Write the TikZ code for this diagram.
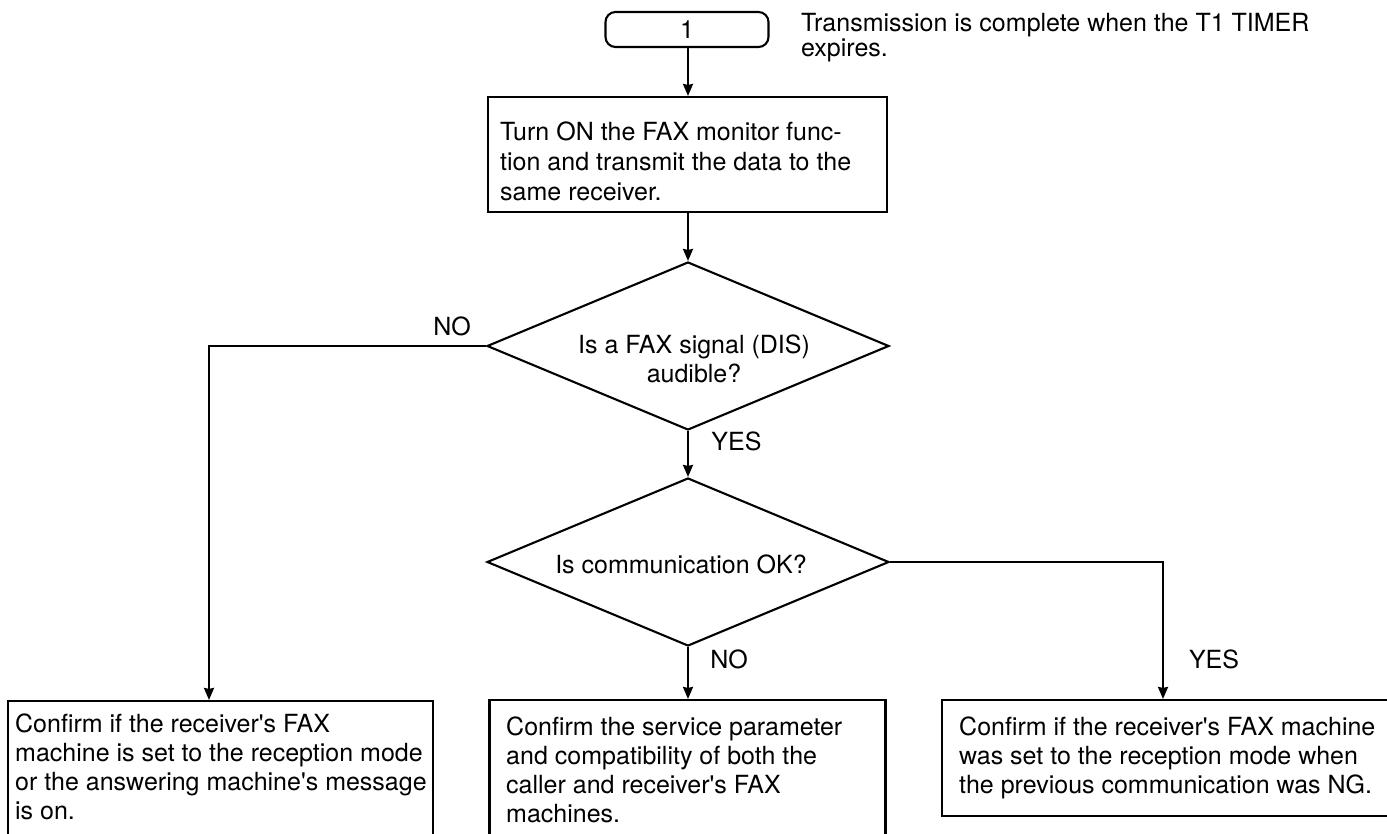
\documentclass[tikz,border=0pt]{standalone}
\usepackage{fontspec}
\setmainfont{TeX Gyre Heros}
\usetikzlibrary{shapes.geometric,arrows.meta}
\newcommand{\q}{\textquotesingle}
\begin{document}
\begin{tikzpicture}[x=1pt,y=-1pt,
  arr/.style={line width=2.1pt,-{Stealth[length=12pt,width=10pt,inset=1pt]}},
  box/.style={draw,line width=2.1pt,rectangle,inner sep=0pt},
  dia/.style={draw,line width=2.1pt,diamond,aspect=2.4,inner sep=0pt,minimum width=402pt,minimum height=168pt},
  txt/.style={inner sep=0pt,align=left,anchor=north west,font=\fontsize{25}{29}\selectfont},
  lab/.style={inner sep=0pt,anchor=base,font=\fontsize{25}{29}\selectfont}]
\useasboundingbox (0,0) rectangle (1387,834);
\clip (0,0) rectangle (1387,834);
% start
\node[box,rounded corners=10pt,minimum width=163pt,minimum height=35pt,font=\fontsize{25}{29}\selectfont] (start) at (687,29.5) {1};
\node[txt,font=\fontsize{25}{25}\selectfont] (note) at (801,13) {Transmission is complete when the T1 TIMER\\expires.};
% process
\node[box,minimum width=399pt,minimum height=115pt] (proc) at (687.5,154.5) {};
\node[txt,font=\fontsize{25}{30}\selectfont] (proct) at (500,122) {Turn ON the FAX monitor func-\\tion and transmit the data to the\\same receiver.};
% decisions
\node[dia] (d1) at (688,346) {};
\node[inner sep=0pt,align=center,anchor=north,font=\fontsize{25}{29}\selectfont] (d1t) at (694,335) {Is a FAX signal (DIS)\\audible?};
\node[dia] (d2) at (688,562) {};
\node[lab] (d2t) at (681,573) {Is communication OK?};
% result boxes
\node[box,minimum width=425pt,minimum height=160pt] (lbox) at (220.5,781) {};
\node[txt] (lboxt) at (15,714) {Confirm if the receiver\q s FAX\\machine is set to the reception mode\\or the answering machine\q s message\\is on.};
\node[box,minimum width=396pt,minimum height=160pt] (mbox) at (687.5,780) {};
\node[txt] (mboxt) at (506,717) {Confirm the service parameter\\and compatibility of both the\\caller and receiver\q s FAX\\machines.};
\node[box,minimum width=448pt,minimum height=116pt] (rbox) at (1166,758) {};
\node[txt] (rboxt) at (959,717) {Confirm if the receiver\q s FAX machine\\was set to the reception mode when\\the previous communication was NG.};
% labels
\node[lab] (no1) at (452,335) {NO};
\node[lab] (yes1) at (736.5,450) {YES};
\node[lab] (no2) at (729,668) {NO};
\node[lab] (yes2) at (1214,668) {YES};
% connectors
\draw[arr] (start.south -| d1.north) -- (proc.north -| d1.north);
\draw[arr] (proc.south -| d1.north) -- (d1.north);
\draw[arr] (d1.south) -- (d2.north);
\draw[arr] (d1.west) -| ([xshift=-11.5pt]lbox.north);
\draw[arr] (d2.south) -- (mbox.north -| d2.south);
\draw[arr] (d2.east) -| ([xshift=-3pt]rbox.north);
\end{tikzpicture}
\end{document}
